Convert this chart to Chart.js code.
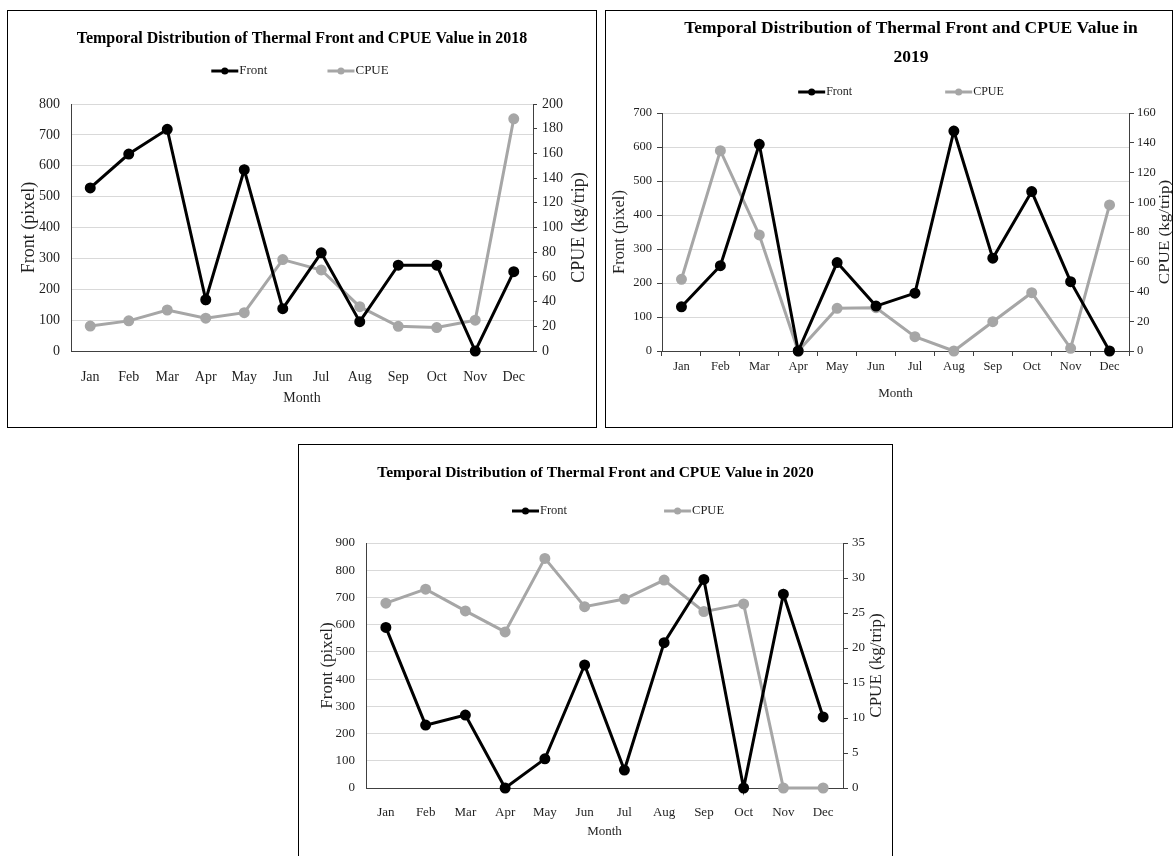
<!DOCTYPE html>
<html>
<head>
<meta charset="utf-8">
<title>Temporal Distribution of Thermal Front and CPUE</title>
<script src="https://cdn.jsdelivr.net/npm/chart.js@4.4.1/dist/chart.umd.min.js"></script>
<style>
  html, body { margin: 0; padding: 0; background: #fff; }
  body { width: 1176px; height: 856px; position: relative; overflow: hidden; }
  .panel { position: absolute; border: 1px solid #000; background: #fff; }
  .panel canvas { display: block; }
</style>
</head>
<body>
<div class="panel" style="left:7px;top:10px;"><canvas id="c2018" width="588" height="416"></canvas></div>
<div class="panel" style="left:605px;top:10px;"><canvas id="c2019" width="566" height="416"></canvas></div>
<div class="panel" style="left:298px;top:444px;"><canvas id="c2020" width="593" height="418"></canvas></div>
<script>
const months = ['Jan', 'Feb', 'Mar', 'Apr', 'May', 'Jun', 'Jul', 'Aug', 'Sep', 'Oct', 'Nov', 'Dec'];

const front2018 = [528, 638, 718, 166, 587, 137, 318, 95, 278, 278, 0, 257];
const cpue2018 = [20.2, 24.4, 33.2, 26.6, 31, 74, 65.6, 35.9, 20, 19, 25, 188];

const front2019 = [130, 251, 608, 0, 260, 132, 170, 647, 273, 469, 204, 0];
const cpue2019 = [48.2, 134.7, 78, 0, 28.7, 29.1, 9.6, 0, 19.7, 39.2, 1.8, 98.2];

const front2020 = [590, 231, 268, 0, 107, 452, 66, 534, 766, 0, 712, 261];
const cpue2020 = [26.4, 28.4, 25.3, 22.3, 32.8, 25.9, 27, 29.7, 25.2, 26.3, 0, 0];

const FONT = "'Liberation Serif', 'Times New Roman', serif";
const TEXT = '#1f1f1f';
const AXIS = '#404040';
const GRID = '#d9d9d9';
const FRONT_COLOR = '#000000';
const CPUE_COLOR = '#a6a6a6';

// excel style legend: short line with a marker, then the label
const lineLegend = {
  id: 'lineLegend',
  afterDraw(chart, args, opts) {
    const ctx = chart.ctx;
    ctx.save();
    ctx.font = `${opts.size}px ${FONT}`;
    const items = chart.data.datasets.map((ds) => ({
      text: ds.label,
      color: ds.borderColor,
      w: ctx.measureText(ds.label).width,
    }));
    const total = items.reduce((sum, it) => sum + opts.lineLength + 1 + it.w, 0) + opts.gap * (items.length - 1);
    let x = opts.centerX - total / 2;
    items.forEach((it) => {
      ctx.strokeStyle = it.color;
      ctx.lineWidth = 3;
      ctx.beginPath();
      ctx.moveTo(x, opts.y);
      ctx.lineTo(x + opts.lineLength, opts.y);
      ctx.stroke();
      ctx.fillStyle = it.color;
      ctx.beginPath();
      ctx.arc(x + opts.lineLength / 2, opts.y, 3.5, 0, Math.PI * 2);
      ctx.fill();
      x += opts.lineLength + 1;
      ctx.fillStyle = TEXT;
      ctx.textAlign = 'left';
      ctx.textBaseline = 'middle';
      ctx.fillText(it.text, x, opts.y);
      x += it.w + opts.gap;
    });
    ctx.restore();
  },
};

// right axis title reads bottom to top, like the left one
const rightTitle = {
  id: 'rightTitle',
  afterDraw(chart, args, opts) {
    const { ctx, chartArea } = chart;
    ctx.save();
    ctx.translate(opts.x, (chartArea.top + chartArea.bottom) / 2);
    ctx.rotate(-Math.PI / 2);
    ctx.scale(1, opts.squeeze || 1);
    ctx.font = `${opts.size}px ${FONT}`;
    ctx.fillStyle = TEXT;
    ctx.textAlign = 'center';
    ctx.textBaseline = 'middle';
    ctx.fillText(opts.text, 0, 0);
    ctx.restore();
  },
};

function buildChart(id, s) {
  const tickFont = { family: FONT, size: s.tickSize };
  return new Chart(document.getElementById(id), {
    type: 'line',
    data: {
      labels: months,
      datasets: [
        {
          label: 'Front', data: s.front, yAxisID: 'y',
          borderColor: FRONT_COLOR, backgroundColor: FRONT_COLOR,
          borderWidth: 3, pointRadius: 4, pointHoverRadius: 4, tension: 0, clip: false,
        },
        {
          label: 'CPUE', data: s.cpue, yAxisID: 'y1',
          borderColor: CPUE_COLOR, backgroundColor: CPUE_COLOR,
          borderWidth: 3, pointRadius: 4, pointHoverRadius: 4, tension: 0, clip: false,
        },
      ],
    },
    options: {
      responsive: false,
      animation: false,
      devicePixelRatio: 1,
      // a negative right padding pushes the centred title to the right; the right axis takes it back
      layout: { padding: { left: 0, right: -s.shift, top: 0, bottom: 0 } },
      plugins: {
        title: {
          display: true, text: s.title, color: '#000',
          font: { family: FONT, size: s.titleSize, weight: 'bold', lineHeight: s.titleLineHeight },
          padding: s.titlePadding,
        },
        legend: { display: false },
        tooltip: { enabled: false },
        lineLegend: s.legend,
        rightTitle: { text: 'CPUE (kg/trip)', x: s.rightTitleX, size: s.rightTitleSize, squeeze: s.squeeze },
      },
      scales: {
        x: {
          offset: true,
          grid: { display: s.xTicks, drawOnChartArea: false, offset: true, tickLength: 5, tickColor: AXIS },
          border: { display: true, color: AXIS, width: 1 },
          ticks: { color: TEXT, font: tickFont, padding: s.xPad, maxRotation: 0, autoSkip: false },
          title: {
            display: true, text: 'Month', color: TEXT,
            font: { family: FONT, size: s.monthSize }, padding: { top: 0, bottom: s.monthPad },
          },
          afterFit: (scale) => { scale.height = s.bottom; },
        },
        y: {
          position: 'left', min: 0, max: s.frontMax,
          ticks: { stepSize: 100, color: TEXT, font: tickFont, padding: s.leftPad },
          grid: {
            color: (ctx) => (ctx.tick && ctx.tick.value === 0 ? AXIS : GRID),
            lineWidth: 1, drawTicks: s.leftTicks, tickLength: 5, tickColor: AXIS,
          },
          border: { display: true, color: AXIS, width: 1 },
          title: {
            display: true, text: 'Front (pixel)', color: TEXT,
            font: { family: FONT, size: s.leftTitleSize }, padding: { top: s.leftTitlePad, bottom: 0 },
          },
          afterFit: (scale) => { scale.width = s.left; },
        },
        y1: {
          position: 'right', min: 0, max: s.cpueMax,
          ticks: { stepSize: s.cpueStep, color: TEXT, font: tickFont, padding: s.rightPad },
          grid: { drawOnChartArea: false, tickLength: s.rightTick, tickColor: AXIS },
          border: { display: true, color: AXIS, width: 1 },
          afterFit: (scale) => { scale.width = s.right + s.shift; },
        },
      },
    },
    plugins: [lineLegend, rightTitle],
  });
}

buildChart('c2018', {
  title: 'Temporal Distribution of Thermal Front and CPUE Value in 2018',
  titleSize: 16, titleLineHeight: 1.2, titlePadding: { top: 18.4, bottom: 55.4 },
  front: front2018, cpue: cpue2018, frontMax: 800, cpueMax: 200, cpueStep: 20,
  left: 63, right: 63, bottom: 76, shift: 0,
  legend: { y: 60, centerX: 292, gap: 60, size: 13, lineLength: 27 },
  tickSize: 14, leftTicks: false, leftPad: 11, rightTick: 4, rightPad: 5, xTicks: false, xPad: 12.6,
  leftTitleSize: 18, leftTitlePad: 10, rightTitleSize: 18, rightTitleX: 571, squeeze: 1,
  monthSize: 14, monthPad: 20.6,
});

buildChart('c2019', {
  title: ['Temporal Distribution of Thermal Front and CPUE Value in', '2019'],
  titleSize: 17.5, titleLineHeight: 1.66, titlePadding: { top: 2.5, bottom: 41.4 },
  front: front2019, cpue: cpue2019, frontMax: 700, cpueMax: 160, cpueStep: 20,
  left: 56, right: 43, bottom: 76, shift: 44,
  legend: { y: 81, centerX: 295, gap: 93, size: 12, lineLength: 27 },
  tickSize: 12.5, leftTicks: true, leftPad: 5, rightTick: 5, rightPad: 3, xTicks: true, xPad: 3.5,
  leftTitleSize: 16.5, leftTitlePad: 4.1, rightTitleSize: 17, rightTitleX: 559, squeeze: 0.8,
  monthSize: 13, monthPad: 26,
});

buildChart('c2020', {
  title: 'Temporal Distribution of Thermal Front and CPUE Value in 2020',
  titleSize: 15.5, titleLineHeight: 1.2, titlePadding: { top: 18.7, bottom: 60.7 },
  front: front2020, cpue: cpue2020, frontMax: 900, cpueMax: 35, cpueStep: 5,
  left: 67, right: 49, bottom: 75, shift: 0,
  legend: { y: 66, centerX: 319, gap: 97, size: 12.5, lineLength: 27 },
  tickSize: 13, leftTicks: false, leftPad: 11, rightTick: 5, rightPad: 4, xTicks: false, xPad: 12.2,
  leftTitleSize: 17, leftTitlePad: 18.8, rightTitleSize: 17, rightTitleX: 578, squeeze: 1,
  monthSize: 13, monthPad: 24,
});
</script>
</body>
</html>
